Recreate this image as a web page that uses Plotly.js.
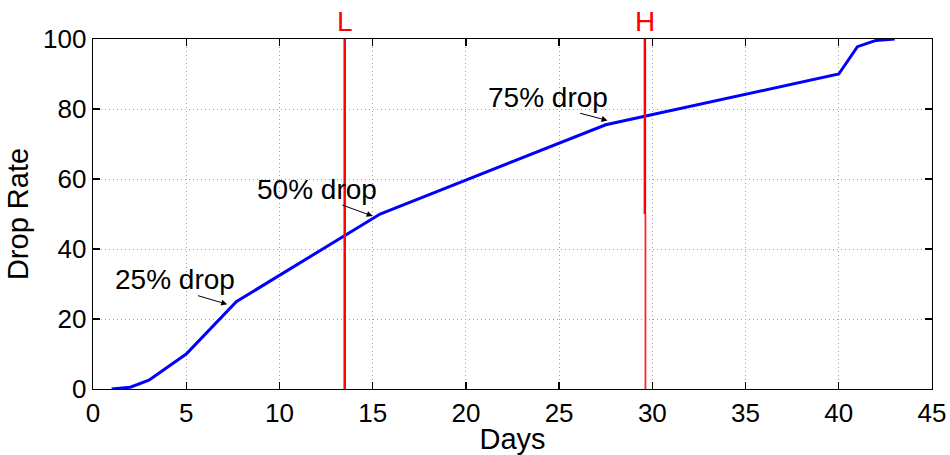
<!DOCTYPE html>
<html>
<head>
<meta charset="utf-8">
<script src="https://cdn.plot.ly/plotly-3.0.1.min.js"></script>
<style>html,body{margin:0;padding:0;background:#fff;}#chart{width:950px;height:455px;}</style>
</head>
<body>
<div id="chart"></div>
<script>
// Drop-rate curve
const days = [1, 2, 3, 5, 7.7, 15.4, 27.5, 40, 41, 42, 43];
const dropRate = [0, 0.5, 2.5, 10, 25, 50, 75.5, 90, 97.8, 99.6, 100];

// Vertical markers
const markerNames = ['L', 'H'];
const markerDays = [13.5, 29.6];

// Annotations: labels, arrow heads (on curve) and arrow tails
const dropLabels = ['25% drop', '50% drop', '75% drop'];
const labelX = [4.4, 12.0, 24.4];
const labelY = [31.4, 57.0, 83.3];
const headX = [7.2, 15.0, 27.6];
const headY = [24.2, 49.4, 76.7];
const tailX = [5.55, 13.3, 26.05];
const tailY = [26.8, 52.7, 78.9];

const xTicks = [0, 5, 10, 15, 20, 25, 30, 35, 40, 45];
const yTicks = [0, 20, 40, 60, 80, 100];

const FONT = 'Liberation Sans, Arial, Helvetica, sans-serif';

const traces = [
  {
    x: days, y: dropRate, type: 'scatter', mode: 'lines',
    line: {color: '#0000ff', width: 3}, hoverinfo: 'skip'
  },
  {
    x: [markerDays[0], markerDays[0]], y: [0, 100], type: 'scatter', mode: 'lines',
    line: {color: '#ff0000', width: 2.5}, hoverinfo: 'skip'
  },
  {
    x: [markerDays[1], markerDays[1]], y: [50, 100], type: 'scatter', mode: 'lines',
    line: {color: '#ff0000', width: 2.5}, hoverinfo: 'skip'
  },
  {
    x: [markerDays[1] + 0.03, markerDays[1] + 0.03], y: [0, 50], type: 'scatter', mode: 'lines',
    line: {color: 'rgba(255,0,0,0.85)', width: 1.8}, hoverinfo: 'skip'
  }
];

const annotations = [];
for (let i = 0; i < dropLabels.length; i++) {
  annotations.push({
    x: labelX[i], y: labelY[i], xref: 'x', yref: 'y', text: dropLabels[i],
    showarrow: false, font: {family: FONT, size: 28, color: '#000'}
  });
  annotations.push({
    x: headX[i], y: headY[i], ax: tailX[i], ay: tailY[i], xref: 'x', yref: 'y',
    axref: 'x', ayref: 'y', text: '', showarrow: true, arrowhead: 2,
    arrowsize: 1.2, arrowwidth: 1, arrowcolor: '#000'
  });
}
for (let i = 0; i < markerNames.length; i++) {
  annotations.push({
    x: markerDays[i], y: 1, xref: 'x', yref: 'paper', yanchor: 'bottom', yshift: 0,
    text: markerNames[i], showarrow: false,
    font: {family: FONT, size: 28, color: '#ff0000'}
  });
}

const layout = {
  width: 950, height: 455,
  margin: {l: 93, r: 18, t: 39, b: 66},
  paper_bgcolor: '#fff', plot_bgcolor: '#fff',
  showlegend: false,
  font: {family: FONT, size: 26, color: '#000'},
  xaxis: {
    range: [0, 45], tickvals: xTicks, ticktext: xTicks.map(String),
    ticks: 'inside', ticklen: 7, tickwidth: 1.3, tickcolor: '#000',
    showline: true, linecolor: '#000', linewidth: 1.3, mirror: 'ticks',
    showgrid: true, gridcolor: '#a0a0a0', griddash: '1px,3px', gridwidth: 1,
    zeroline: false, tickfont: {family: FONT, size: 26},
    title: {text: 'Days', font: {family: FONT, size: 29}, standoff: 0}
  },
  yaxis: {
    range: [0, 100], tickvals: yTicks, ticktext: yTicks.map(String),
    ticks: 'inside', ticklen: 7, tickwidth: 1.3, tickcolor: '#000',
    showline: true, linecolor: '#000', linewidth: 1.3, mirror: 'ticks',
    showgrid: true, gridcolor: '#a0a0a0', griddash: '1px,3px', gridwidth: 1,
    zeroline: false, tickfont: {family: FONT, size: 26},
    title: {text: 'Drop Rate', font: {family: FONT, size: 29}, standoff: 6}
  },
  annotations: annotations
};

Plotly.newPlot('chart', traces, layout, {displayModeBar: false, staticPlot: true});
</script>
</body>
</html>
